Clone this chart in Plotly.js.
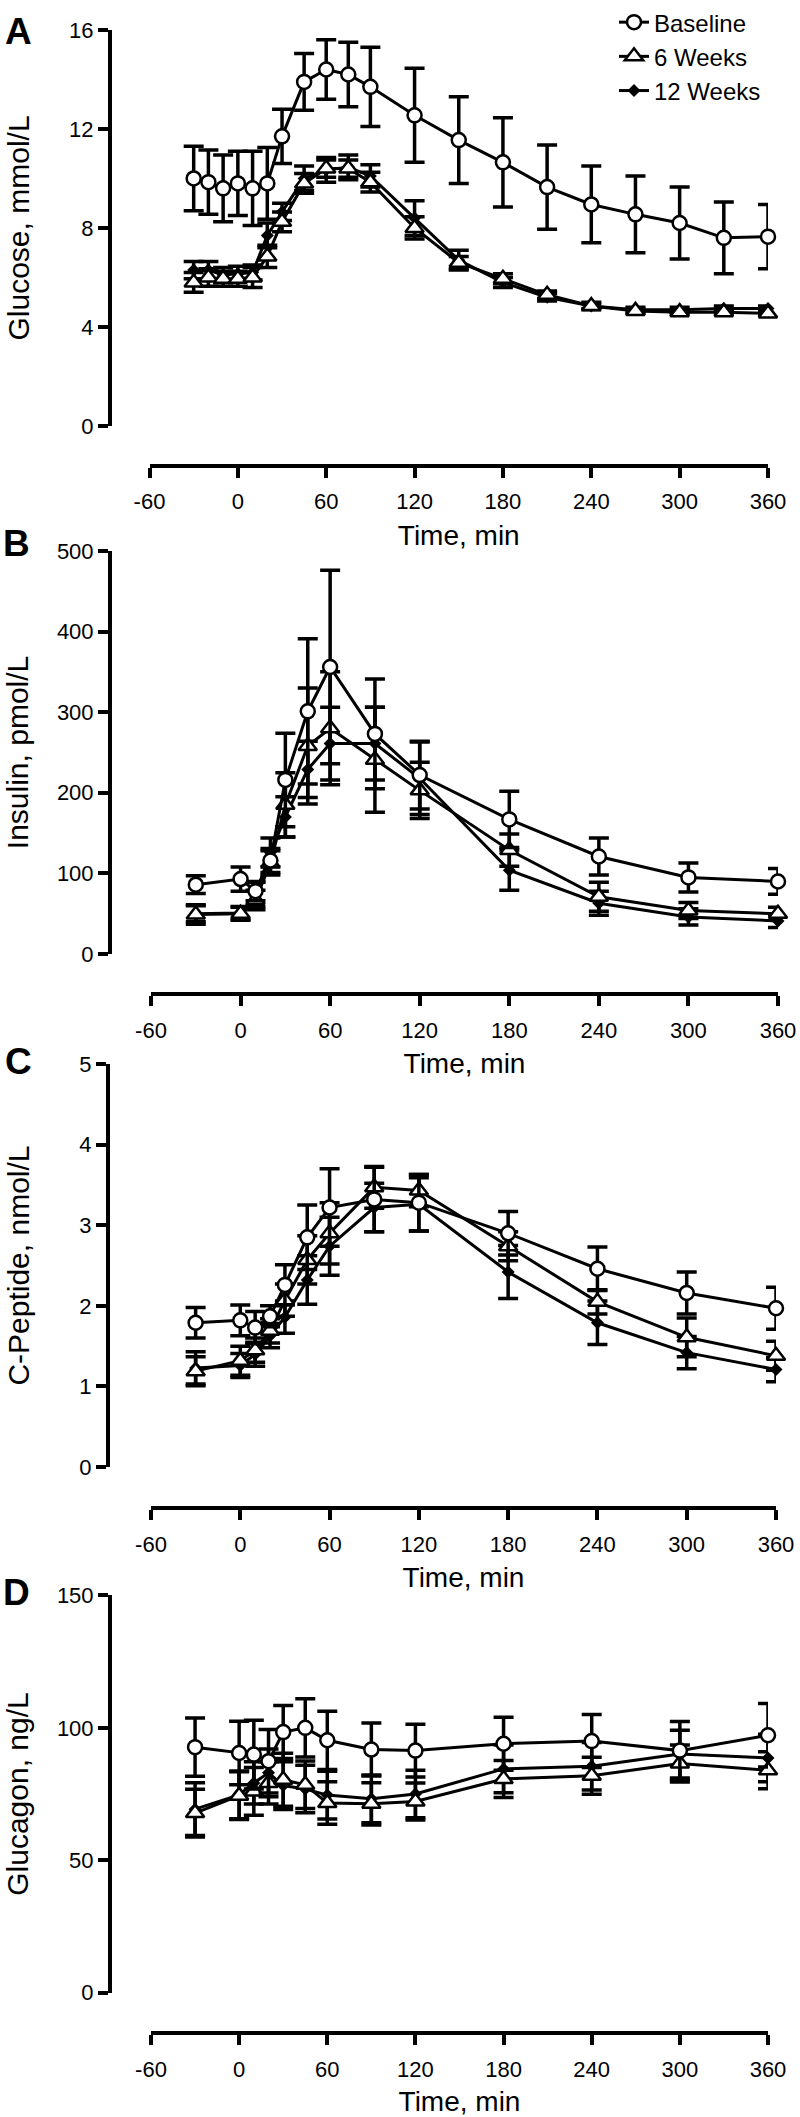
<!DOCTYPE html>
<html>
<head>
<meta charset="utf-8">
<script src="https://cdn.plot.ly/plotly-3.0.1.min.js"></script>
<style>html,body{margin:0;padding:0;background:#fff;}#chart{width:800px;height:2117px;}</style>
</head>
<body>
<div id="chart"></div>
<script>
// ---------- DATA ----------
const seriesNames = ["Baseline", "6 Weeks", "12 Weeks"];
const xTickVals = [-60, 0, 60, 120, 180, 240, 300, 360];

// Panel A: Glucose, mmol/L
const timeGlucose = [-30, -20, -10, 0, 10, 20, 30, 45, 60, 75, 90, 120, 150, 180, 210, 240, 270, 300, 330, 360];
const glucoseBaseline = [10.0, 9.85, 9.6, 9.8, 9.6, 9.8, 11.7, 13.9, 14.4, 14.2, 13.7, 12.55, 11.55, 10.65, 9.65, 8.95, 8.55, 8.2, 7.6, 7.65];
const glucoseBaselineSem = [1.3, 1.3, 1.35, 1.3, 1.5, 1.45, 1.1, 1.15, 1.2, 1.3, 1.6, 1.9, 1.75, 1.8, 1.7, 1.55, 1.55, 1.45, 1.45, 1.3];
const glucose6wk = [5.8, 6.0, 5.95, 5.95, 6.0, 6.85, 8.25, 9.8, 10.4, 10.4, 9.85, 8.0, 6.6, 5.95, 5.3, 4.85, 4.65, 4.6, 4.6, 4.55];
const glucose6wkSem = [0.4, 0.35, 0.3, 0.3, 0.4, 0.45, 0.4, 0.4, 0.35, 0.35, 0.4, 0.45, 0.25, 0.2, 0.15, 0.15, 0.1, 0.1, 0.1, 0.1];
const glucose12wk = [6.3, 6.3, 6.1, 6.15, 6.2, 7.7, 8.65, 10.0, 10.35, 10.45, 10.1, 8.4, 6.7, 5.8, 5.2, 4.85, 4.7, 4.7, 4.75, 4.75];
const glucose12wkSem = [0.35, 0.35, 0.3, 0.3, 0.3, 0.5, 0.35, 0.5, 0.5, 0.5, 0.45, 0.7, 0.4, 0.2, 0.15, 0.1, 0.1, 0.1, 0.1, 0.1];

// Panels B-D share sampling times
const timeHormone = [-30, 0, 10, 20, 30, 45, 60, 90, 120, 180, 240, 300, 360];

// Panel B: Insulin, pmol/L
const insulinBaseline = [86, 93, 78, 116, 216, 301, 356, 273, 222, 167, 121, 95, 90];
const insulinBaselineSem = [11, 15, 12, 15, 58, 90, 120, 68, 42, 35, 23, 18, 16];
const insulin6wk = [49, 50, 67, 113, 185, 258, 280, 241, 203, 129, 71, 54, 50];
const insulin6wkSem = [12, 8, 12, 15, 40, 72, 70, 65, 35, 20, 18, 10, 8];
const insulin12wk = [50, 51, 74, 126, 170, 229, 261, 261, 218, 104, 63, 46, 41];
const insulin12wkSem = [10, 8, 15, 18, 25, 35, 45, 45, 45, 25, 15, 10, 8];

// Panel C: C-Peptide, nmol/L
const cpepBaseline = [1.79, 1.82, 1.73, 1.87, 2.26, 2.85, 3.22, 3.32, 3.28, 2.90, 2.46, 2.16, 1.97];
const cpepBaselineSem = [0.19, 0.19, 0.2, 0.13, 0.25, 0.4, 0.48, 0.4, 0.35, 0.27, 0.27, 0.26, 0.26];
const cpep6wk = [1.19, 1.32, 1.45, 1.69, 2.07, 2.57, 2.9, 3.47, 3.43, 2.74, 2.05, 1.61, 1.38];
const cpep6wkSem = [0.18, 0.18, 0.15, 0.15, 0.2, 0.3, 0.38, 0.26, 0.2, 0.18, 0.15, 0.24, 0.18];
const cpep12wk = [1.23, 1.26, 1.4, 1.63, 1.86, 2.32, 2.74, 3.22, 3.26, 2.42, 1.79, 1.42, 1.21];
const cpep12wkSem = [0.2, 0.15, 0.15, 0.15, 0.2, 0.3, 0.36, 0.3, 0.33, 0.33, 0.27, 0.2, 0.15];

// Panel D: Glucagon, ng/L
const glucagonBaseline = [92.7, 90.5, 89.9, 87.4, 98.4, 100, 95.3, 91.8, 91.4, 94, 95, 91.4, 97.2];
const glucagonBaselineSem = [11, 12, 13, 12, 10, 11, 11, 10, 10, 10, 10, 11, 12];
const glucagon6wk = [67.8, 74.4, 76, 79.2, 80.4, 78.5, 71.6, 71.3, 72.2, 80.7, 81.9, 86.5, 84];
const glucagon6wkSem = [9, 9, 9, 8, 10, 9, 8, 8, 7, 7, 7, 7, 7];
const glucagon12wk = [69.3, 74.7, 79.2, 83, 78.2, 76.9, 74.6, 73.2, 75, 84.5, 85.5, 90.1, 88.6];
const glucagon12wkSem = [10, 9, 8, 9, 9, 9, 9, 9, 9, 9, 9, 9, 9];

// ---------- LAYOUT HELPERS ----------
const W = 800, H = 2117;
const FONT = "Liberation Sans, Arial, Helvetica, sans-serif";
const px = v => v / W;
const py = v => 1 - v / H;

const panels = [
  {letter: "A", ytitle: "Glucose, mmol/L", yrange: [0, 16], dtick: 4, t: timeGlucose,
   data: [[glucoseBaseline, glucoseBaselineSem], [glucose6wk, glucose6wkSem], [glucose12wk, glucose12wkSem]],
   top: 20, bot: 418, left: 149.5, right: 768, xaxisY: 458, yaxisX: 110, letterPos: [18, 22], ystand: 30},
  {letter: "B", ytitle: "Insulin, pmol/L", yrange: [0, 500], dtick: 100, t: timeHormone,
   data: [[insulinBaseline, insulinBaselineSem], [insulin6wk, insulin6wkSem], [insulin12wk, insulin12wkSem]],
   top: 543.5, bot: 948.5, left: 151, right: 778, xaxisY: 989, yaxisX: 110, letterPos: [16, 536], ystand: 18},
  {letter: "C", ytitle: "C-Peptide, nmol/L", yrange: [0, 5], dtick: 1, t: timeHormone,
   data: [[cpepBaseline, cpepBaselineSem], [cpep6wk, cpep6wkSem], [cpep12wk, cpep12wkSem]],
   top: 1059, bot: 1464, left: 151, right: 776, xaxisY: 1505.5, yaxisX: 108, letterPos: [18, 1056], ystand: 40},
  {letter: "D", ytitle: "Glucagon, ng/L", yrange: [0, 150], dtick: 50, t: timeHormone,
   data: [[glucagonBaseline, glucagonBaselineSem], [glucagon6wk, glucagon6wkSem], [glucagon12wk, glucagon12wkSem]],
   top: 1593, bot: 1992, left: 151, right: 768, xaxisY: 2033, yaxisX: 110, letterPos: [16, 1590], ystand: 18}
];

const markerStyles = [
  {symbol: "circle", size: 14, color: "white", line: {color: "black", width: 2.5}},
  {symbol: "triangle-up", size: 16, color: "white", line: {color: "black", width: 2.5}},
  {symbol: "diamond", size: 10, color: "black", line: {color: "black", width: 0}}
];

const traces = [];
const layout = {
  width: W, height: H,
  margin: {l: 0, r: 0, t: 0, b: 0},
  paper_bgcolor: "white", plot_bgcolor: "white",
  font: {family: FONT, color: "black", size: 22},
  showlegend: true,
  legend: {x: px(614), y: py(-10), xanchor: "left", yanchor: "top", traceorder: "reversed",
           font: {family: FONT, size: 24, color: "black"}, bgcolor: "rgba(0,0,0,0)", itemwidth: 30},
  annotations: [],
  hovermode: false
};

panels.forEach((p, i) => {
  const n = i === 0 ? "" : String(i + 1);
  const xa = "x" + n, ya = "y" + n;
  // draw order: 12 Weeks, 6 Weeks, Baseline (baseline on top)
  [2, 1, 0].forEach(k => {
    traces.push({
      type: "scatter", mode: "lines+markers",
      x: p.t, y: p.data[k][0], name: seriesNames[k],
      xaxis: xa, yaxis: ya, legendgroup: seriesNames[k], showlegend: i === 0,
      line: {color: "black", width: 3},
      marker: markerStyles[k],
      error_y: {type: "data", array: p.data[k][1], visible: true, color: "black", thickness: 3.5, width: 10},
      cliponaxis: false
    });
  });
  layout["xaxis" + n] = {
    domain: [px(p.left), px(p.right)], range: [-60, 360], anchor: "free", position: py(p.xaxisY),
    tickvals: xTickVals, ticktext: xTickVals.map(String),
    showline: true, linewidth: 4, linecolor: "black", ticks: "outside", ticklen: 10, tickwidth: 4, tickcolor: "black",
    showgrid: false, zeroline: false, tickfont: {size: 22, family: FONT}, ticklabelstandoff: 5,
    title: {text: "Time, min", font: {size: 28, family: FONT}, standoff: 11}
  };
  layout["yaxis" + n] = {
    domain: [py(p.bot), py(p.top)], range: p.yrange, dtick: p.dtick, tick0: 0,
    anchor: "free", position: px(p.yaxisX),
    showline: true, linewidth: 4, linecolor: "black", ticks: "outside", ticklen: 10, tickwidth: 4, tickcolor: "black",
    showgrid: false, zeroline: false, tickfont: {size: 22, family: FONT},
    title: {text: p.ytitle, font: {size: 30, family: FONT}, standoff: p.ystand}
  };
  layout.annotations.push({
    text: "<b>" + p.letter + "</b>", xref: "paper", yref: "paper",
    x: px(p.letterPos[0]), y: py(p.letterPos[1]), xanchor: "center", yanchor: "middle",
    showarrow: false, font: {size: 37, family: FONT, color: "black"}
  });
});

Plotly.newPlot("chart", traces, layout, {staticPlot: true, displayModeBar: false});
</script>
</body>
</html>
